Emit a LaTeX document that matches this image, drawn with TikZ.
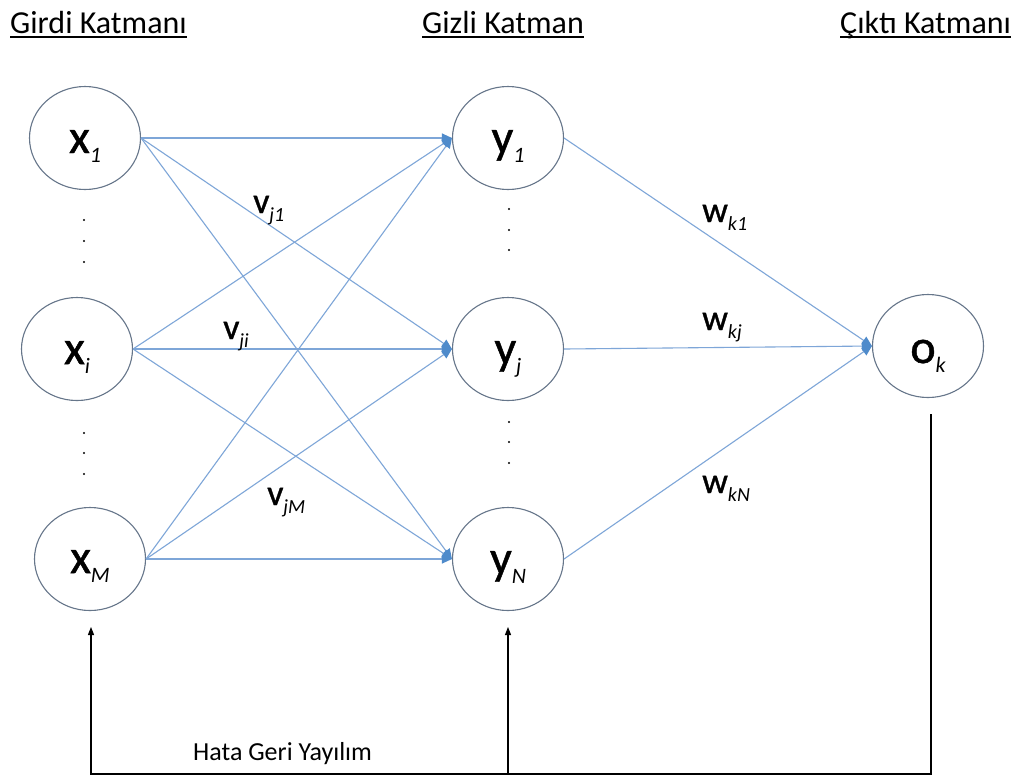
\documentclass[tikz,border=0pt]{standalone}
\usepackage{fontspec}
\setmainfont{Carlito}
\newfontfamily\heavyfont[FakeBold=1]{Carlito}
\usetikzlibrary{shapes.geometric,arrows.meta}
\definecolor{edgeblue}{HTML}{7EA6D8}
\definecolor{tipblue}{HTML}{4F8BCB}
\definecolor{ringgray}{HTML}{66768A}
\newcommand\nodelbl[2]{{\heavyfont\fontsize{48}{50}\selectfont #1}\raisebox{-9pt}{\fontsize{22}{24}\selectfont\itshape #2}}
\newcommand\wlbl[2]{{\heavyfont\fontsize{36}{38}\selectfont #1}\raisebox{-8pt}{\fontsize{20}{22}\selectfont\itshape #2}}
\begin{document}
\begin{tikzpicture}[x=1pt,y=-1pt,
  neuron/.style={ellipse, draw=ringgray, line width=1.1pt, minimum width=111pt, minimum height=103pt, inner sep=0pt},
  lbl/.style={inner sep=0pt, anchor=base},
  wl/.style={inner sep=0pt, anchor=base west},
  ttl/.style={inner sep=0pt, anchor=base west, font=\fontsize{32}{34}\selectfont},
  conn/.style={draw=edgeblue, line width=1.1pt, -{Triangle[length=10pt,width=9pt,color=tipblue]}},
  fb/.style={draw=black, line width=1.1pt},
  fbarrow/.style={fb, -{Triangle[length=8pt,width=6pt]}},
  dotmark/.style={fill=black}
]
\useasboundingbox (0,0) rectangle (1024,777);
\fill[white] (0,0) rectangle (1024,777);

% titles
\node[ttl] (t1) at (10,33) {Girdi Katmanı};
\node[ttl] (t2) at (422,33) {Gizli Katman};
\node[ttl] (t3) at (840,33) {Çıktı Katmanı};
\foreach \t in {t1,t2,t3}
  \draw[line width=1.8pt] ([yshift=-4pt]\t.base west) -- ([yshift=-4pt]\t.base east);

% neurons
\node[neuron] (x1) at (85,138) {};
\node[neuron] (xi) at (77,349) {};
\node[neuron] (xM) at (90,559) {};
\node[neuron] (y1) at (508,138) {};
\node[neuron] (yj) at (508,349) {};
\node[neuron] (yN) at (508,559) {};
\node[neuron] (ok) at (928,346) {};

% neuron labels
\node[lbl] (lx1) at (85,153) {\nodelbl{x}{1}};
\node[lbl] (lxi) at (77,364) {\nodelbl{x}{i}};
\node[lbl] (lxM) at (90,573) {\nodelbl{x}{M}};
\node[lbl] (ly1) at (508,153) {\nodelbl{y}{1}};
\node[lbl] (lyj) at (508,364) {\nodelbl{y}{j}};
\node[lbl] (lyN) at (508,574) {\nodelbl{y}{N}};
\node[lbl] (lok) at (928,363) {\nodelbl{o}{k}};

% dots
\foreach \yy in {220,241,262,433,453,474} \fill[dotmark] (84,\yy) circle (1.2);
\foreach \yy in {209,230,250,422,442,463} \fill[dotmark] (509,\yy) circle (1.2);

% input -> hidden
\foreach \s in {x1,xi,xM}
  \foreach \d in {y1,yj,yN}
    \draw[conn] (\s.east) -- (\d.west);

% hidden -> output
\foreach \s in {y1,yj,yN}
  \draw[conn] (\s.east) -- (ok.west);

% weight labels
\node[wl] (vj1) at (253,213) {\wlbl{v}{j1}};
\node[wl] (vji) at (223,339) {\wlbl{v}{ji}};
\node[wl] (vjM) at (267,505) {\wlbl{v}{jM}};
\node[wl] (wk1) at (702,222) {\wlbl{w}{k1}};
\node[wl] (wkj) at (702,330) {\wlbl{w}{kj}};
\node[wl] (wkN) at (702,493) {\wlbl{w}{kN}};

% error back-propagation
\coordinate (fbR) at (931,414);
\coordinate (fbB) at (91,774);
\coordinate (fbM) at (508,774);
\coordinate (xtip) at (91,627);
\coordinate (ytip) at (508,627);
\draw[fbarrow] (fbR) |- (fbB) -- (xtip);
\draw[fbarrow] (fbM) -- (ytip);
\node[inner sep=0pt, anchor=base west, font=\fontsize{26}{28}\selectfont] (hata) at (193,760) {Hata Geri Yayılım};
\end{tikzpicture}
\end{document}
